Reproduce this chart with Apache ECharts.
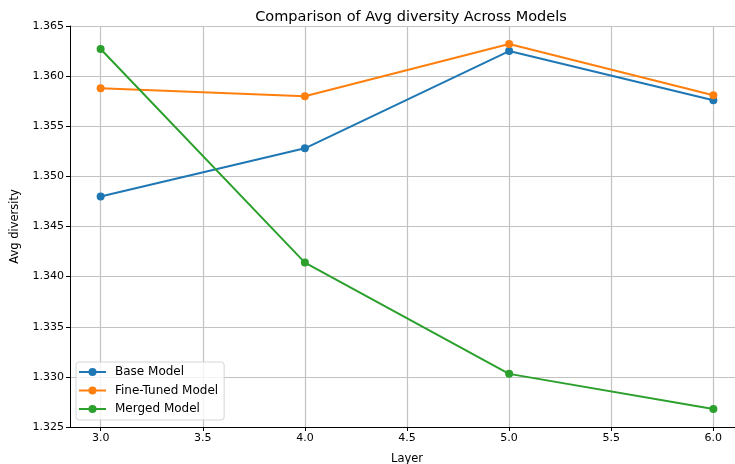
<!DOCTYPE html>
<html>
<head>
<meta charset="utf-8">
<script src="https://cdn.jsdelivr.net/npm/echarts@6/dist/echarts.min.js"></script>
<style>html,body{margin:0;padding:0;background:#fff}#c{width:735px;height:464px}</style>
</head>
<body>
<div id="c"></div>
<script>
const layers = [3.0, 4.0, 5.0, 6.0];
const baseModel = [1.3480, 1.3528, 1.3625, 1.3576];
const fineTunedModel = [1.3588, 1.3580, 1.3632, 1.3581];
const mergedModel = [1.3627, 1.3414, 1.3303, 1.3268];
const xTicks = [3.0, 3.5, 4.0, 4.5, 5.0, 5.5, 6.0];
const seriesNames = ['Base Model', 'Fine-Tuned Model', 'Merged Model'];
const colors = ['#1f77b4', '#ff7f0e', '#2ca02c'];

const font = 'DejaVu Sans';
const chart = echarts.init(document.getElementById('c'));
const pair = arr => layers.map((x, i) => [x, arr[i]]);
const mk = (name, arr, color) => ({
  name, type: 'line', data: pair(arr), color,
  symbol: 'circle', symbolSize: 8,
  lineStyle: { width: 2, color }, itemStyle: { color },
  animation: false
});
chart.setOption({
  animation: false,
  title: {
    text: 'Comparison of Avg diversity Across Models',
    left: 406, top: 5, textAlign: 'center',
    textStyle: { fontFamily: font, fontSize: 14.5, fontWeight: 'normal', color: '#000' }
  },
  grid: { left: 70, right: -9, top: 26, bottom: 37, containLabel: false, outerBoundsMode: 'none' },
  legend: {
    orient: 'vertical', left: 76, top: 362,
    itemWidth: 27, itemHeight: 10, itemGap: 4.5,
    padding: [3, 6, 4, 2],
    borderColor: '#d6d6d6', borderWidth: 1, borderRadius: 3,
    backgroundColor: 'rgba(255,255,255,0.8)',
    textStyle: { fontFamily: font, fontSize: 12, lineHeight: 14, color: '#000', padding: [0, 0, 0, 4] },
    data: seriesNames
  },
  xAxis: {
    type: 'value', min: 2.85, max: 6.15,
    name: 'Layer', nameLocation: 'middle', nameGap: 26,
    nameTextStyle: { fontFamily: font, fontSize: 11.5, color: '#000' },
    axisLine: { show: true, lineStyle: { color: '#000', width: 1 } },
    axisTick: { show: true, customValues: xTicks, length: 4, inside: false, lineStyle: { color: '#000' } },
    axisLabel: { customValues: xTicks, fontFamily: font, fontSize: 11, color: '#000', margin: 6,
      formatter: v => v.toFixed(1) },
    splitLine: { show: true, lineStyle: { color: '#c2c2c2', width: 1.2 } }
  },
  yAxis: {
    type: 'value', min: 1.325, max: 1.365, interval: 0.005,
    name: 'Avg diversity', nameLocation: 'middle', nameGap: 49, nameRotate: 90,
    nameTextStyle: { fontFamily: font, fontSize: 11.5, color: '#000' },
    axisLine: { show: true, lineStyle: { color: '#000', width: 1 } },
    axisTick: { show: true, length: 4, lineStyle: { color: '#000' } },
    axisLabel: { fontFamily: font, fontSize: 11, color: '#000', margin: 6,
      formatter: v => v.toFixed(3) },
    splitLine: { show: true, lineStyle: { color: '#c2c2c2', width: 1.2 } }
  },
  series: [
    mk(seriesNames[0], baseModel, colors[0]),
    mk(seriesNames[1], fineTunedModel, colors[1]),
    mk(seriesNames[2], mergedModel, colors[2])
  ]
});
</script>
</body>
</html>
